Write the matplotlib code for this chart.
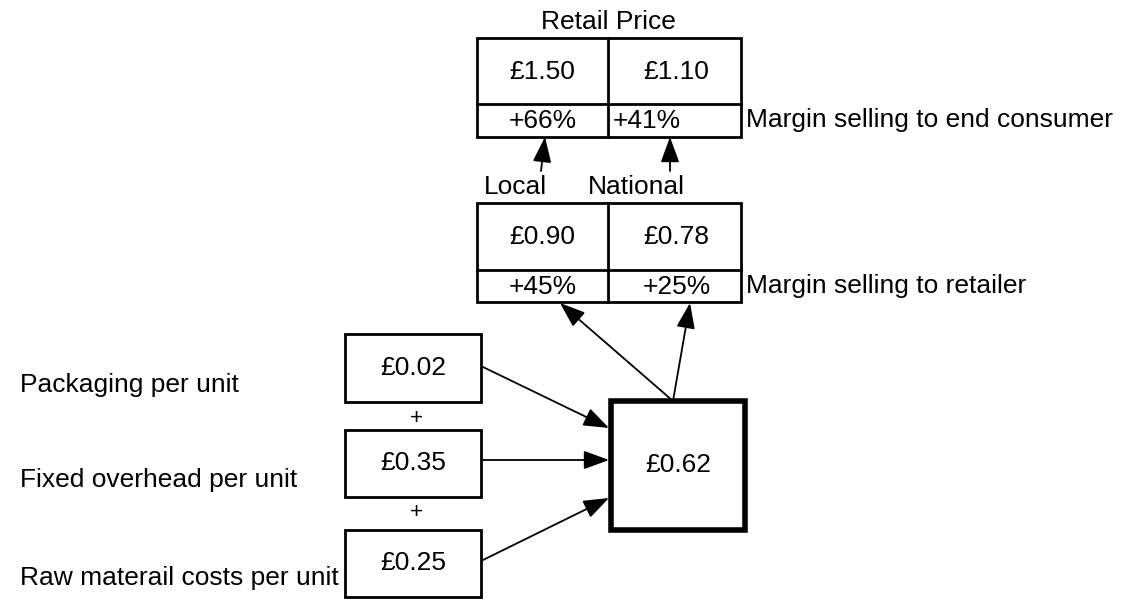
import matplotlib.pyplot as plt
from matplotlib.patches import Rectangle

plt.rcParams['font.family'] = ['Liberation Sans', 'DejaVu Sans']

# Data
channels = ['Local', 'National']
retail_prices = ['£1.50', '£1.10']
retail_margins = ['+66%', '+41%']
trade_prices = ['£0.90', '£0.78']
trade_margins = ['+45%', '+25%']
cost_labels = ['Packaging per unit', 'Fixed overhead per unit', 'Raw materail costs per unit']
cost_values = ['£0.02', '£0.35', '£0.25']
unit_cost = '£0.62'

fs = 19
fig = plt.figure(figsize=(11.22, 5.99), dpi=100)
ax = fig.add_axes([0, 0, 1, 1])
ax.set_xlim(0, 1122)
ax.set_ylim(599, 0)
ax.axis('off')

def box(x0, y0, x1, y1, lw=2.0):
    ax.add_patch(Rectangle((x0, y0), x1 - x0, y1 - y0, fill=False, ec='black', lw=lw))

def arrow(x0, y0, x1, y1):
    ax.annotate('', xy=(x1, y1), xytext=(x0, y0),
                arrowprops=dict(arrowstyle='-|>,head_length=0.6,head_width=0.22',
                                color='black', lw=1.3,
                                mutation_scale=26, shrinkA=0, shrinkB=0))

# two price/margin tables
L, M, R = 477, 608, 741
cx = [(L + M) / 2, (M + R) / 2 + 2]
for (top, mid, bot), prices, margins, note in [
        ((38, 104, 137), retail_prices, retail_margins, 'Margin selling to end consumer'),
        ((203, 270, 302), trade_prices, trade_margins, 'Margin selling to retailer')]:
    box(L, top, R, bot)
    ax.plot([M, M], [top, bot], color='black', lw=2.0)
    ax.plot([L, R], [mid, mid], color='black', lw=2.0)
    for i in range(2):
        ax.text(cx[i], (top + mid) / 2 + 1, prices[i], ha='center', va='center', fontsize=fs)
    ax.text(746, (mid + bot) / 2, note, ha='left', va='center', fontsize=fs)
    if note.endswith('consumer'):
        ax.text(cx[0], (mid + bot) / 2 + 1, margins[0], ha='center', va='center', fontsize=fs)
        ax.text(613, (mid + bot) / 2 + 1, margins[1], ha='left', va='center', fontsize=fs)
    else:
        for i in range(2):
            ax.text(cx[i], (mid + bot) / 2 + 1, margins[i], ha='center', va='center', fontsize=fs)

ax.text(M, 22, 'Retail Price', ha='center', va='center', fontsize=fs)
ax.text(484, 187, channels[0], ha='left', va='center', fontsize=fs)
ax.text(588, 187, channels[1], ha='left', va='center', fontsize=fs)
arrow(541, 171, 545, 137)
arrow(670, 171, 670, 137)

# cost components
cost_boxes = [(334, 402), (430, 497), (530, 597)]
label_y = [385, 480, 578]
arrow_src = [367, 460, 560]
arrow_dst = [428, 460, 498]
for (t, b), val, lab, ly, sy, dy in zip(cost_boxes, cost_values, cost_labels,
                                          label_y, arrow_src, arrow_dst):
    box(345, t, 481, b)
    ax.text(413, (t + b) / 2, val, ha='center', va='center', fontsize=fs)
    ax.text(20, ly, lab, ha='left', va='center', fontsize=fs)
    arrow(483, sy, 609, dy)
for py in [418, 513]:
    ax.text(416, py, '+', ha='center', va='center', fontsize=fs * 0.85)

box(611, 401, 745, 530, lw=4.0)
ax.text(678, 465, unit_cost, ha='center', va='center', fontsize=fs)
arrow(673, 401, 560, 303)
arrow(673, 401, 690, 303)

fig.savefig('out.png', dpi=100)
